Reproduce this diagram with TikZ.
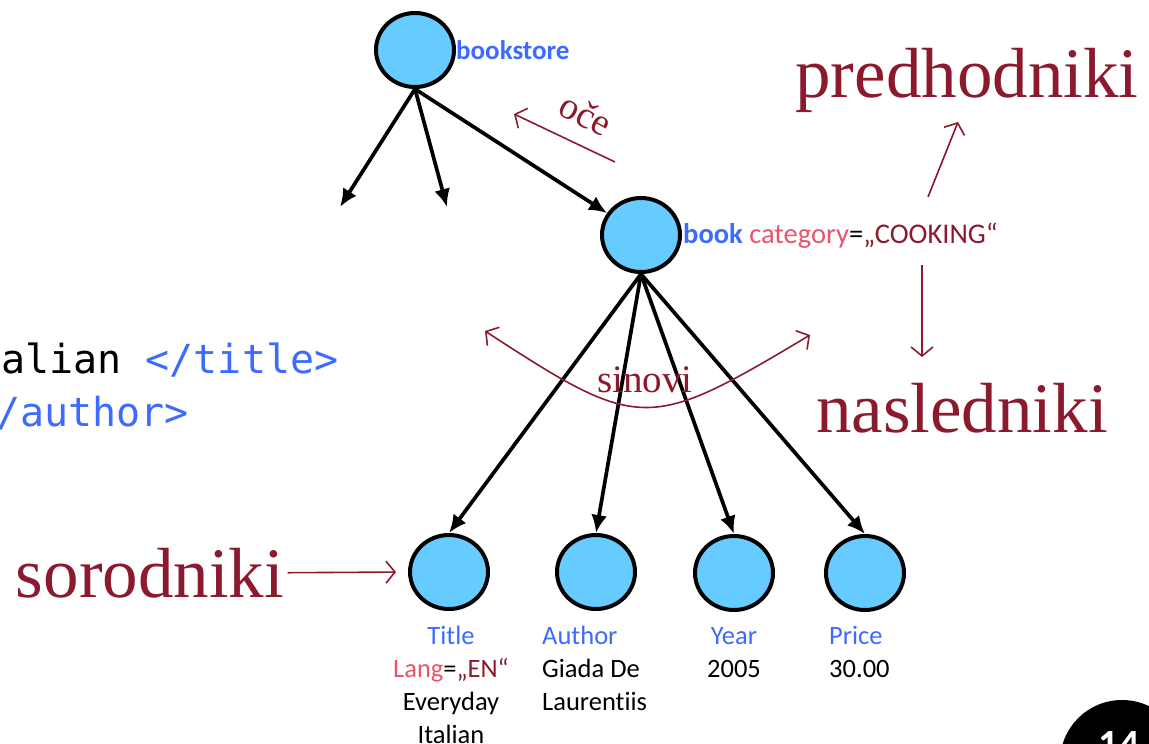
\documentclass[tikz,border=0pt]{standalone}
\usepackage{fontspec}
\setmainfont{Liberation Serif}
\setsansfont{Carlito}[Ligatures=CommonOff]
\setmonofont{DejaVu Sans Mono}
\usetikzlibrary{shapes.geometric,arrows.meta}
\definecolor{knotblue}{HTML}{66CCFF}
\definecolor{tagblue}{HTML}{3D6BFF}
\definecolor{attrpink}{HTML}{E9536B}
\definecolor{darkred}{HTML}{8C1A2E}
\tikzset{
  elem/.style={ellipse,draw,line width=4pt,fill=knotblue,minimum width=78pt,minimum height=74pt,inner sep=0pt},
  link/.style={line width=3.7pt,-{Latex[length=18pt,width=16pt]}},
  rel/.style={draw=darkred,line width=1.6pt,>={Straight Barb[length=9pt,width=22pt]}},
  bigword/.style={text=darkred,font=\fontsize{71}{80}\selectfont},
  lbl/.style={font=\sffamily\fontsize{26.5}{33}\selectfont,inner sep=0pt},
  code/.style={anchor=base west,inner sep=0pt,font=\ttfamily\fontsize{40}{48}\selectfont},
}
\begin{document}
\begin{tikzpicture}[x=1pt,y=-1pt]
  \useasboundingbox (0,0) rectangle (1149,744);

  \node[elem] (root) at (415,50) {};
  \node[elem] (book) at (641,235) {};
  \node[elem] (title) at (449,572) {};
  \node[elem] (author) at (596,572) {};
  \node[elem] (year) at (734,573) {};
  \node[elem] (price) at (865,573) {};

  \node[lbl,anchor=west,font=\sffamily\bfseries\fontsize{27}{30}\selectfont,text=tagblue] (rootlbl) at (456,50) {bookstore};
  \node[lbl,anchor=west,font=\sffamily\fontsize{28.5}{33}\selectfont] (booklbl) at (683,236) {{\bfseries\color{tagblue}book} {\color{attrpink}category}={\color{darkred}„COOKING“}};

  \node[lbl,anchor=north,align=center] (titlelbl) at (451,621) {\strut{\color{tagblue}Title}\\{\color{attrpink}Lang}={\color{darkred}„EN“}\\Everyday\\Italian};
  \node[lbl,anchor=north west,align=left] (authorlbl) at (542,621) {\strut{\color{tagblue}Author}\\Giada De\\Laurentiis};
  \node[lbl,anchor=north,align=center] (yearlbl) at (734,621) {\strut{\color{tagblue}Year}\\2005};
  \node[lbl,anchor=north west,align=left] (pricelbl) at (829,621) {\strut{\color{tagblue}Price}\\30.00};

  \coordinate (leftend) at (340,207);
  \coordinate (midend) at (447,207);
  \draw[link] (root.south) -- (leftend);
  \draw[link] (root.south) -- (midend);
  \draw[link] (root.south) -- (book);
  \draw[link] (book.south) -- (title.north);
  \draw[link] (book.south) -- (author.north);
  \draw[link] (book.south) -- (year.north);
  \draw[link] (book.south) -- (price.north);

  \node[code] (codeA) at (1,373) {alian {\color{tagblue}</title>}};
  \node[code,text=tagblue] (codeB) at (-4,426) {/author>};

  \node[bigword,anchor=base] (pred) at (967,97) {predhodniki};
  \node[bigword,anchor=base] (nasl) at (962,432) {nasledniki};
  \node[bigword,anchor=base] (sorod) at (150,597) {sorodniki};
  \node[text=darkred,font=\fontsize{39}{40}\selectfont,anchor=base] (sinovi) at (645,392) {sinovi};
  \node[text=darkred,font=\fontsize{38}{40}\selectfont,rotate=-28] (oche) at (586,114) {oče};

  \coordinate (ocheA) at (615,162);
  \coordinate (ocheB) at (514,114);
  \coordinate (upA) at (928,197);
  \coordinate (upB) at (958,122);
  \coordinate (downA) at (922,265);
  \coordinate (downB) at (922,357);
  \coordinate (sinL) at (485,331);
  \coordinate (sinR) at (810,335);
  \draw[rel,->] (ocheA) -- (ocheB);
  \draw[rel,->] (upA) -- (upB);
  \draw[rel,->] (downA) -- (downB);
  \draw[rel,->,shorten >=12pt] (sorod.east) -- (title.west);
  \draw[rel,<->] (sinL) .. controls (640,432) and (648,432) .. (sinR);

  \fill (1122,762) circle (62pt);
  \node[text=white,font=\sffamily\bfseries\fontsize{40}{40}\selectfont] (pagenum) at (1119,745) {14};
\end{tikzpicture}
\end{document}
